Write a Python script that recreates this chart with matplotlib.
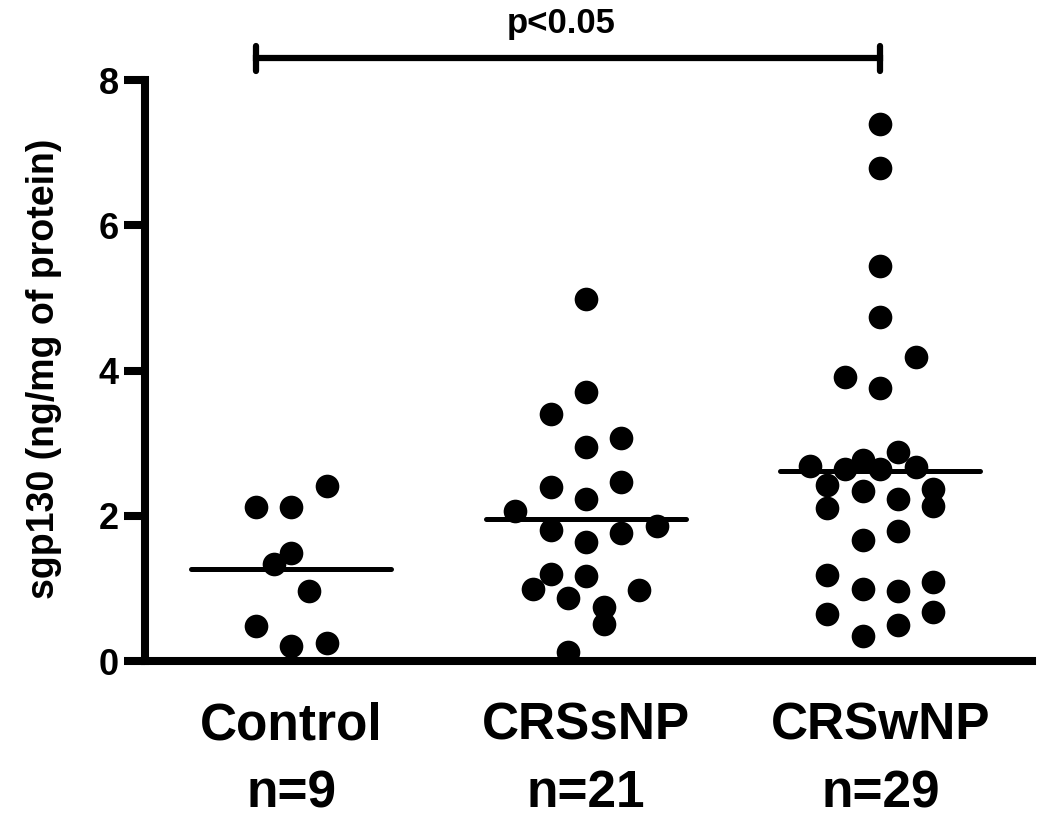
import numpy as np
import matplotlib
matplotlib.use("Agg")
import matplotlib.pyplot as plt

plt.rcParams['font.family'] = ['Liberation Sans', 'DejaVu Sans']
plt.rcParams['font.weight'] = 'bold'

groups = ["Control", "CRSsNP", "CRSwNP"]
counts = [9, 21, 29]

# sgp130 values (ng/mg of protein)
control = [2.12, 2.12, 2.41, 1.49, 1.33, 0.96, 0.48, 0.21, 0.25]
crssnp = [4.98, 3.71, 3.40, 3.07, 2.94, 2.40, 2.46, 2.23, 2.07, 1.81, 1.86,
          1.76, 1.64, 1.20, 1.17, 0.99, 0.87, 0.98, 0.75, 0.51, 0.12]
crswnp = [7.39, 6.79, 5.44, 4.73, 4.19, 3.91, 3.76, 2.69, 2.65, 2.77, 2.64,
          2.88, 2.67, 2.42, 2.34, 2.23, 2.37, 2.10, 2.13, 1.79, 1.66, 1.19,
          1.09, 0.99, 0.97, 0.65, 0.68, 0.49, 0.35]

# column slot of each dot within its group (scatter layout)
control_cols = [-2, 0, 2, 0, -1, 1, -2, 0, 2]
crssnp_cols = [0, 0, -2, 2, 0, -2, 2, 0, -4, -2, 4,
               2, 0, -2, 0, -3, -1, 3, 1, 1, -1]
crswnp_cols = [0, 0, 0, 0, 2, -2, 0, -4, -2, -1, 0,
               1, 2, -3, -1, 1, 3, -3, 3, 1, -1, -3,
               3, -1, 1, -3, 3, 1, -1]

sig_text = "p<0.05"
ylabel = "sgp130 (ng/mg of protein)"

slot = 0.06
half = 0.34

fig = plt.figure(figsize=(10.5, 8.3), dpi=100)
ax = fig.add_axes([145 / 1050, 1 - 661 / 830, 887 / 1050, 581 / 830])

data = [control, crssnp, crswnp]
cols = [control_cols, crssnp_cols, crswnp_cols]
for i in range(len(groups)):
    x = i + np.array(cols[i]) * slot
    ax.scatter(x, data[i], s=290, color='black', linewidths=0,
               clip_on=False, zorder=3)
    m = np.mean(data[i])
    ax.plot([i - half, i + half], [m, m], color='black', lw=3.6,
            solid_capstyle='round', zorder=2)

# significance bar Control vs CRSwNP
ybar = 8.30
ax.plot([-0.12, 2.0], [ybar, ybar], color='black', lw=4.5, clip_on=False)
for xc in [-0.12, 2.0]:
    ax.plot([xc, xc], [ybar - 0.17, ybar + 0.17], color='black', lw=4.5,
            solid_capstyle='round', clip_on=False)
ax.text(0.915, 8.646, sig_text, ha='center', va='baseline', fontsize=25,
        fontweight='bold')

ax.set_xlim(-0.497, 2.515)
ax.set_ylim(0, 8)
ax.set_yticks([0, 2, 4, 6, 8])
ax.set_xticks(range(len(groups)))
ax.set_xticklabels([f"{g}\nn={n}" for g, n in zip(groups, counts)],
                   fontsize=37, fontweight='bold')
for lab in ax.get_xticklabels():
    lab.set_linespacing(1.5)
for lab in ax.get_yticklabels():
    lab.set_fontsize(26)
    lab.set_fontweight('bold')

ax.tick_params(axis='x', length=0, pad=29)
ax.tick_params(axis='y', length=15, width=5.8, pad=4)

ax.spines['top'].set_visible(False)
ax.spines['right'].set_visible(False)
ax.spines['left'].set_linewidth(5.8)
ax.spines['bottom'].set_linewidth(5.8)
ax.spines['left'].set_bounds(0, 8)
ax.spines['left'].set_capstyle('projecting')
ax.spines['bottom'].set_capstyle('projecting')

fig.text(44 / 1050, 1 - 369 / 830, ylabel, rotation=90, ha='center',
         va='center', fontsize=27, fontweight='bold')

fig.savefig('out.png', dpi=100)
